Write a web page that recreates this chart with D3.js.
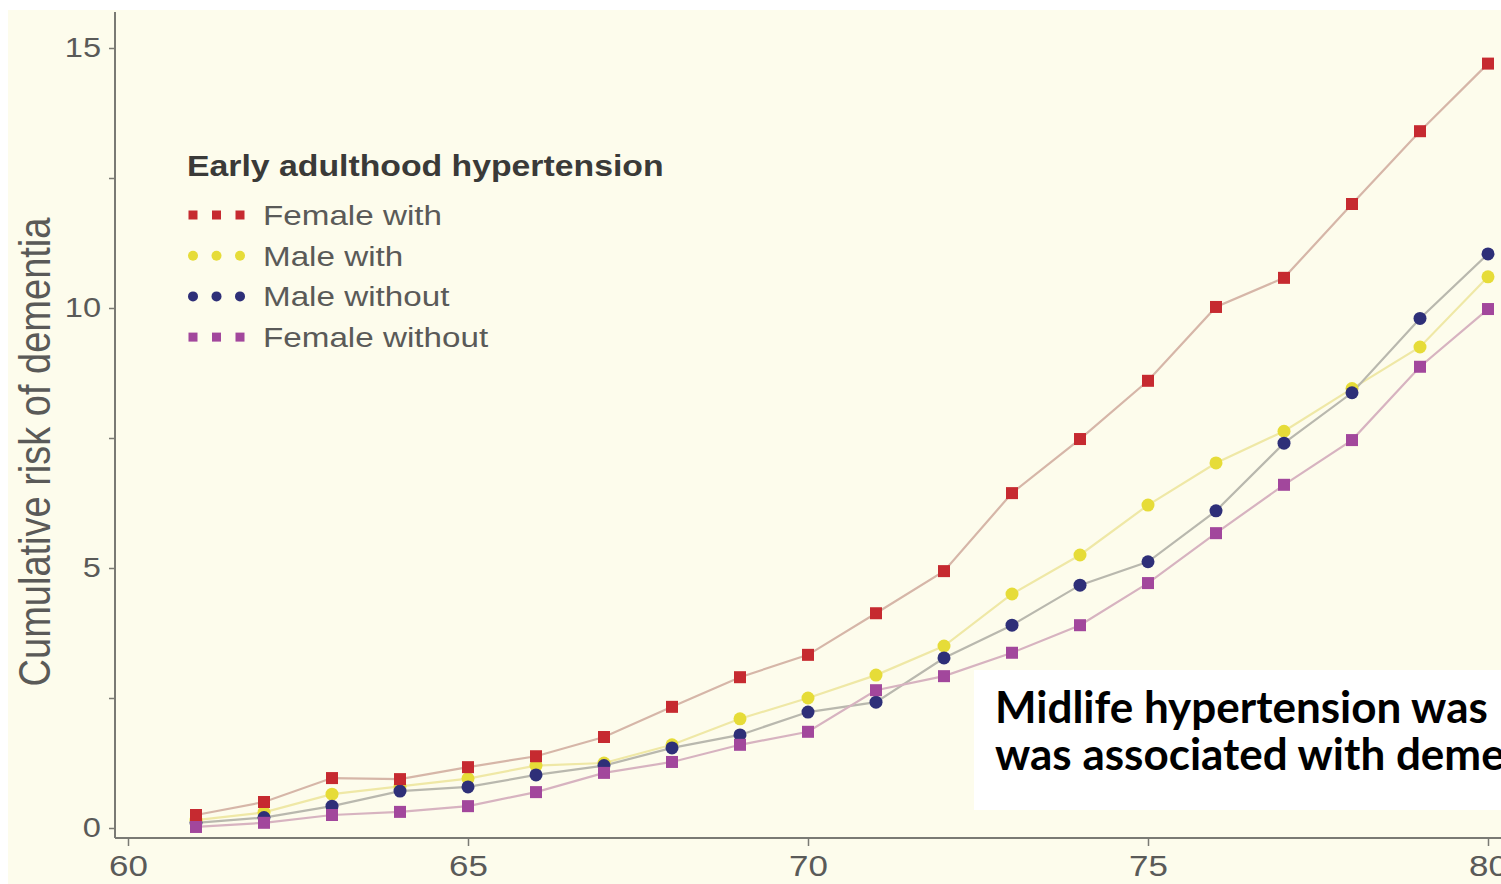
<!DOCTYPE html>
<html>
<head>
<meta charset="utf-8">
<script src="https://cdn.jsdelivr.net/npm/d3@7"></script>
<style>
  html, body { margin: 0; padding: 0; background: #ffffff; overflow: hidden; }
  svg { display: block; }
</style>
</head>
<body>
<svg id="chart" width="1501" height="884"></svg>
<script>
// Age at follow-up (years)
const ages = [61, 62, 63, 64, 65, 66, 67, 68, 69, 70, 71, 72, 73, 74, 75, 76, 77, 78, 79, 80];

// Cumulative risk of dementia (%) by group
const femaleWith    = [0.25, 0.50, 0.96, 0.94, 1.17, 1.38, 1.75, 2.33, 2.90, 3.33, 4.13, 4.94, 6.44, 7.48, 8.60, 10.02, 10.58, 12.00, 13.40, 14.70];
const maleWith      = [0.15, 0.30, 0.65, 0.80, 0.95, 1.20, 1.25, 1.60, 2.10, 2.50, 2.94, 3.50, 4.50, 5.25, 6.21, 7.02, 7.63, 8.45, 9.25, 10.60];
const maleWithout   = [0.10, 0.20, 0.42, 0.71, 0.79, 1.02, 1.20, 1.54, 1.79, 2.23, 2.42, 3.27, 3.90, 4.67, 5.12, 6.10, 7.40, 8.37, 9.80, 11.04];
const femaleWithout = [0.02, 0.10, 0.25, 0.31, 0.42, 0.69, 1.06, 1.27, 1.60, 1.85, 2.65, 2.92, 3.37, 3.90, 4.71, 5.67, 6.60, 7.46, 8.87, 9.98];

const seriesNames = ["Female with", "Male with", "Male without", "Female without"];
const seriesValues = [femaleWith, maleWith, maleWithout, femaleWithout];

const xTicks = [60, 65, 70, 75, 80];
const yTicks = [0, 5, 10, 15];
const yMinorTicks = [2.5, 7.5, 12.5];

const legendTitle = "Early adulthood hypertension";
const yTitle = "Cumulative risk of dementia";
const noteLines = ["Midlife hypertension was", "was associated with dementia"];

// Styles per series
const markerColor = ["#c62a30", "#e6dc38", "#2e2f78", "#a2479c"];
const lineColor   = ["#d6b6a8", "#efe8a6", "#b9b8ae", "#d7b3c0"];
const markerShape = ["square", "circle", "circle", "square"];
const drawOrder   = [1, 2, 3, 0];

// The figure's lettering is set slightly wide
const stretch = 1.165;

const svg = d3.select("#chart");
const W = 1501, H = 884;

// Background panel
svg.append("rect").attr("x", 0).attr("y", 0).attr("width", W).attr("height", H).attr("fill", "#ffffff");
svg.append("rect").attr("x", 8).attr("y", 10).attr("width", W - 8).attr("height", H - 10).attr("fill", "#fdfcec");

const x = d3.scaleLinear().domain([60, 80]).range([128, 1488]);
const y = d3.scaleLinear().domain([0, 15]).range([828, 48]);

const axisColor = "#7a7a74";
const textColor = "#5a5a58";
const axisFont = "Liberation Sans, Arial, sans-serif";

const axisX0 = 115, axisY0 = 838;

// Y axis
const yAxis = d3.axisLeft(y).tickValues(yTicks).tickSize(6).tickPadding(8).tickFormat(d3.format("d"));
const gy = svg.append("g").attr("transform", `translate(${axisX0},0)`).call(yAxis);
gy.select(".domain").remove();
gy.selectAll(".tick line").attr("stroke", axisColor).attr("stroke-width", 1.5);
gy.selectAll(".tick text")
  .attr("fill", textColor).attr("font-family", axisFont).attr("font-size", 28)
  .attr("x", -14 / stretch)
  .attr("transform", `scale(${stretch},1)`);
const yMinor = d3.axisLeft(y).tickValues(yMinorTicks).tickSize(6).tickFormat("");
const gym = svg.append("g").attr("transform", `translate(${axisX0},0)`).call(yMinor);
gym.select(".domain").remove();
gym.selectAll(".tick line").attr("stroke", axisColor).attr("stroke-width", 1.5);
svg.append("line").attr("x1", axisX0).attr("x2", axisX0).attr("y1", 12).attr("y2", axisY0)
  .attr("stroke", axisColor).attr("stroke-width", 2);

// X axis
const xAxis = d3.axisBottom(x).tickValues(xTicks).tickSize(8).tickPadding(9).tickFormat(d3.format("d"));
const gx = svg.append("g").attr("transform", `translate(0,${axisY0})`).call(xAxis);
gx.select(".domain").remove();
gx.selectAll(".tick line").attr("stroke", axisColor).attr("stroke-width", 1.5);
gx.selectAll(".tick text")
  .attr("fill", textColor).attr("font-family", axisFont).attr("font-size", 30)
  .attr("transform", `scale(${stretch},1)`);
svg.append("line").attr("x1", axisX0).attr("x2", W).attr("y1", axisY0).attr("y2", axisY0)
  .attr("stroke", axisColor).attr("stroke-width", 2);

// Y axis title
svg.append("text")
  .attr("transform", `translate(50,452) scale(${stretch},1) rotate(-90)`)
  .attr("text-anchor", "middle")
  .attr("fill", textColor)
  .attr("font-family", axisFont)
  .attr("font-size", 38)
  .text(yTitle);

// Lines and markers
const line = d3.line().x((d, i) => x(ages[i])).y(d => y(d));
const plot = svg.append("g");
drawOrder.forEach(s => {
  plot.append("path").datum(seriesValues[s]).attr("d", line)
    .attr("fill", "none").attr("stroke", lineColor[s]).attr("stroke-width", 2.2);
});
function drawMarker(g, shape, cx, cy, size, color) {
  if (shape === "square") {
    g.append("rect").attr("x", cx - size / 2).attr("y", cy - size / 2)
      .attr("width", size).attr("height", size).attr("fill", color);
  } else {
    g.append("circle").attr("cx", cx).attr("cy", cy).attr("r", size / 2 + 0.5).attr("fill", color);
  }
}
drawOrder.forEach(s => {
  const g = plot.append("g");
  seriesValues[s].forEach((v, i) => drawMarker(g, markerShape[s], x(ages[i]), y(v), 12, markerColor[s]));
});

// Legend
const legend = svg.append("g");
legend.append("text")
  .attr("transform", `translate(187,176) scale(${stretch},1)`)
  .attr("fill", "#3a3a38").attr("font-family", axisFont).attr("font-weight", "bold").attr("font-size", 29)
  .text(legendTitle);
seriesNames.forEach((name, k) => {
  const cy = 215 + k * 40.7;
  [193, 216.5, 240].forEach(mx => drawMarker(legend, markerShape[k], mx, cy, 9, markerColor[k]));
  legend.append("text")
    .attr("transform", `translate(263,${cy + 10}) scale(${stretch},1)`)
    .attr("fill", textColor).attr("font-family", axisFont).attr("font-size", 28.5)
    .text(name);
});

// Annotation box
svg.append("rect").attr("x", 974).attr("y", 670).attr("width", W - 974).attr("height", 140).attr("fill", "#ffffff");
const note = svg.append("text").attr("fill", "#000000")
  .attr("font-family", "Lato, 'Open Sans', sans-serif").attr("font-weight", "bold").attr("font-size", 44);
noteLines.forEach((t, i) => {
  note.append("tspan").attr("x", 995).attr("y", 723 + i * 47).text(t);
});
</script>
</body>
</html>
